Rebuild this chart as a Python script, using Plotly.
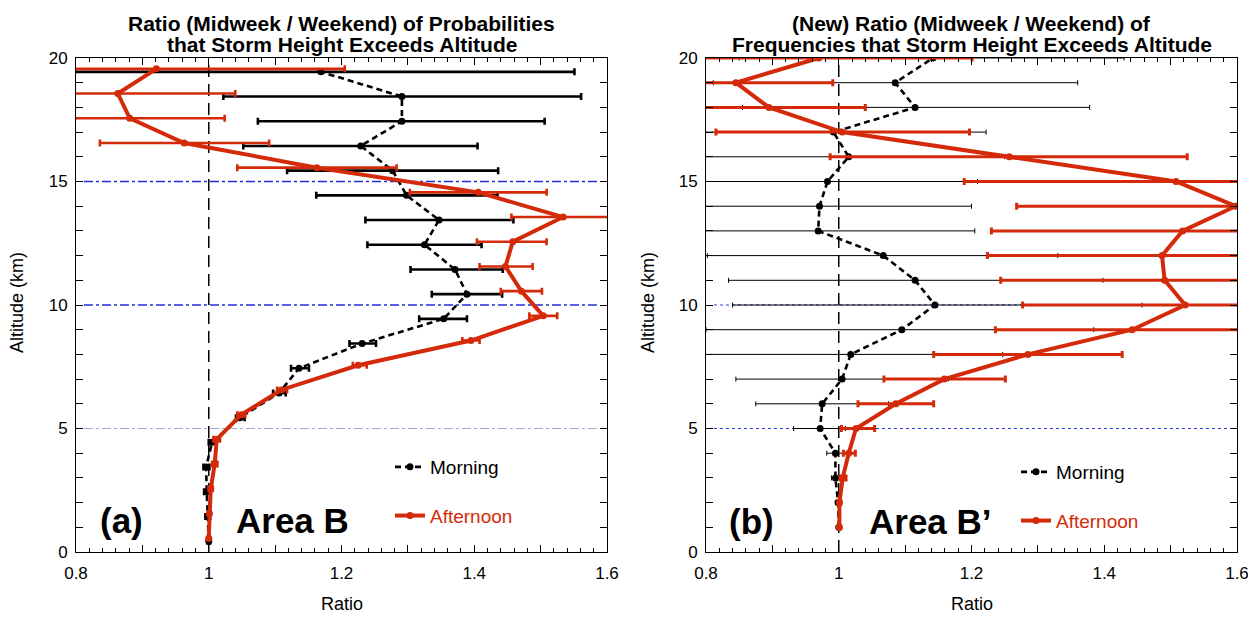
import numpy as np
import plotly.graph_objects as go

# ---------------- data: panel (a) Area B, probabilities ----------------
alt_a = [0.5, 1.5, 2.5, 3.5, 4.5, 5.5, 6.5, 7.5, 8.5, 9.5,
         10.5, 11.5, 12.5, 13.5, 14.5, 15.5, 16.5, 17.5, 18.5, 19.5]
morn_a = [1.000, 0.998, 0.997, 0.996, 1.005, 1.047, 1.106, 1.136, 1.231, 1.354,
          1.389, 1.371, 1.325, 1.347, 1.298, 1.277, 1.229, 1.291, 1.291, 1.169]
morn_a_lo = [0.998, 0.995, 0.993, 0.992, 1.000, 1.041, 1.097, 1.124, 1.212, 1.317,
             1.336, 1.304, 1.239, 1.236, 1.162, 1.118, 1.052, 1.074, 1.022, 0.700]
morn_a_hi = [1.002, 1.002, 1.002, 1.001, 1.011, 1.054, 1.116, 1.151, 1.252, 1.389,
             1.442, 1.443, 1.411, 1.459, 1.435, 1.436, 1.405, 1.506, 1.561, 1.551]
aft_a = [1.000, 1.001, 1.003, 1.009, 1.012, 1.049, 1.109, 1.225, 1.395, 1.504,
         1.471, 1.447, 1.458, 1.534, 1.406, 1.163, 0.963, 0.881, 0.863, 0.921]
aft_a_lo = [0.999, 0.999, 1.000, 1.005, 1.007, 1.043, 1.103, 1.217, 1.382, 1.483,
            1.440, 1.408, 1.404, 1.456, 1.303, 1.043, 0.836, 0.700, 0.700, 0.700]
aft_a_hi = [1.001, 1.003, 1.006, 1.013, 1.017, 1.055, 1.118, 1.238, 1.408, 1.525,
            1.502, 1.488, 1.509, 1.650, 1.509, 1.283, 1.091, 1.024, 1.040, 1.205]

# ---------------- data: panel (b) Area B', frequencies ----------------
alt_b = [1, 2, 3, 4, 5, 6, 7, 8, 9, 10, 11, 12, 13, 14, 15, 16, 17, 18, 19, 20]
morn_b = [1.000, 0.999, 0.995, 0.995, 0.972, 0.975, 1.005, 1.018, 1.095, 1.145,
          1.115, 1.067, 0.969, 0.971, 0.983, 1.015, 0.992, 1.115, 1.085, 1.142]
morn_b_lo = [0.998, 0.995, 0.989, 0.982, 0.932, 0.875, 0.845, 0.700, 0.800, 0.840,
             0.834, 0.802, 0.700, 0.700, 0.700, 0.700, 0.700, 0.855, 0.811, 0.850]
morn_b_hi = [1.002, 1.003, 1.001, 1.007, 1.010, 1.075, 1.165, 1.247, 1.384, 1.457,
             1.398, 1.330, 1.205, 1.200, 1.209, 1.250, 1.222, 1.378, 1.360, 1.430]
aft_b = [1.001, 1.001, 1.006, 1.015, 1.026, 1.086, 1.159, 1.285, 1.442, 1.522,
         1.491, 1.487, 1.518, 1.598, 1.508, 1.257, 1.005, 0.895, 0.845, 0.970]
aft_b_lo = [1.000, 0.999, 1.002, 1.007, 1.004, 1.029, 1.068, 1.143, 1.236, 1.277,
            1.244, 1.224, 1.230, 1.268, 1.189, 0.987, 0.815, 0.700, 0.790, 0.700]
aft_b_hi = [1.002, 1.003, 1.011, 1.025, 1.054, 1.143, 1.251, 1.427, 1.750, 1.800,
            1.800, 1.800, 1.800, 1.950, 1.850, 1.525, 1.197, 1.040, 0.991, 1.201]

x_tick_vals = [0.8, 0.9, 1.0, 1.1, 1.2, 1.3, 1.4, 1.5, 1.6]
x_tick_text = ["0.8", "", "1", "", "1.2", "", "1.4", "", "1.6"]
y_tick_vals = [0, 5, 10, 15, 20]
ref_ratio = 1.0
ref_alts_a = [15, 10, 5]
ref_alts_b = [15, 10, 5]

RED = "#d42a0a"
BLACK = "#000000"
FONT = "Liberation Sans, Arial, Helvetica, sans-serif"

# page has an 8px body margin: figure occupies (8..1256, 8..621)
OFF = 8
W, H = 1256 - OFF, 621 - OFF


def PX(px):
    return (px - OFF) / W


def PY(py):
    return 1 - (py - OFF) / H


fig = go.Figure()


def errs(v, lo, hi):
    v = np.array(v)
    return (np.array(hi) - v).tolist(), (v - np.array(lo)).tolist()


def add_series(x, lo, hi, y, xa, ya, name, color, dash, lw, ms, ethick, ewidth,
               legend, group):
    plus, minus = errs(x, lo, hi)
    fig.add_trace(go.Scatter(
        x=x, y=y, xaxis=xa, yaxis=ya, mode="lines+markers", name=name,
        line=dict(color=color, width=lw, dash=dash),
        marker=dict(color=color, size=ms, symbol="circle"),
        error_x=dict(type="data", symmetric=False, array=plus, arrayminus=minus,
                     color=color, thickness=ethick, width=ewidth),
        legend=legend, legendgroup=group, showlegend=True))


off = 0.06
ya_black = (np.array(alt_a) - off).tolist()
ya_red = (np.array(alt_a) + off).tolist()

# panel (a)
add_series(morn_a, morn_a_lo, morn_a_hi, ya_black, "x", "y", "Morning", BLACK,
           "6px,4px", 2.6, 7, 2.6, 3.5, "legend", "m1")
add_series(aft_a, aft_a_lo, aft_a_hi, ya_red, "x", "y",
           '<span style="color:%s">Afternoon</span>' % RED, RED,
           "solid", 4, 7, 2.6, 3.5, "legend", "a1")
# panel (b)
add_series(morn_b, morn_b_lo, morn_b_hi, alt_b, "x2", "y2", "Morning", BLACK,
           "6px,4px", 2.6, 7, 1.0, 2.5, "legend2", "m2")
add_series(aft_b, aft_b_lo, aft_b_hi, alt_b, "x2", "y2",
           '<span style="color:%s">Afternoon</span>' % RED, RED,
           "solid", 4, 7, 3.0, 3.5, "legend2", "a2")

# reference lines
for xr, yr in (("x", "y"), ("x2", "y2")):
    fig.add_shape(type="line", xref=xr, yref=yr + " domain", x0=ref_ratio, x1=ref_ratio,
                  y0=0, y1=1, line=dict(color=BLACK, width=1.5, dash="12px,7px"),
                  layer="below")
for a in ref_alts_a:
    faint = a == 5
    fig.add_shape(type="line", xref="x domain", yref="y", x0=0.015, x1=0.985, y0=a, y1=a,
                  line=dict(color="#9aa6d8" if faint else "#1f2fd8", width=1 if faint else 1.5,
                            dash="dashdot"), layer="below")
for a in ref_alts_b:
    fig.add_shape(type="line", xref="x2 domain", yref="y2", x0=0.015, x1=0.985, y0=a, y1=a,
                  line=dict(color="#2a3ae0", width=1, dash="dot"), layer="below")

L0, L1 = PX(76), PX(607)
R0, R1 = PX(706), PX(1237)
B0, B1 = PY(552), PY(58)

xcommon = dict(range=[0.8, 1.6], tickvals=x_tick_vals, ticktext=x_tick_text,
               ticks="inside", ticklen=7, tickwidth=1, tickcolor=BLACK,
               minor=dict(dtick=0.02, tick0=0.8, ticks="inside", ticklen=4, tickcolor=BLACK),
               showline=True, linecolor=BLACK, linewidth=1, mirror="allticks",
               showgrid=False, zeroline=False, automargin=False,
               tickfont=dict(family=FONT, size=17, color=BLACK), ticklabelstandoff=6)
ycommon = dict(range=[0, 20], tickvals=y_tick_vals,
               ticks="inside", ticklen=7, tickwidth=1, tickcolor=BLACK,
               minor=dict(dtick=1, ticks="inside", ticklen=7, tickcolor=BLACK),
               showline=True, linecolor=BLACK, linewidth=1, mirror="allticks",
               showgrid=False, zeroline=False, automargin=False,
               tickfont=dict(family=FONT, size=17, color=BLACK), ticklabelstandoff=4)

fig.update_layout(
    width=W, height=H, margin=dict(l=0, r=0, t=0, b=0),
    paper_bgcolor="white", plot_bgcolor="white",
    xaxis=dict(domain=[L0, L1], anchor="y", **xcommon),
    yaxis=dict(domain=[B0, B1], anchor="x", **ycommon),
    xaxis2=dict(domain=[R0, R1], anchor="y2", **xcommon),
    yaxis2=dict(domain=[B0, B1], anchor="x2", **ycommon),
    legend=dict(x=PX(390), y=PY(448), xanchor="left", yanchor="top",
                bgcolor="rgba(0,0,0,0)", font=dict(family=FONT, size=19, color=BLACK),
                tracegroupgap=21, traceorder="grouped", itemwidth=30),
    legend2=dict(x=PX(1016), y=PY(453), xanchor="left", yanchor="top",
                 bgcolor="rgba(0,0,0,0)", font=dict(family=FONT, size=19, color=BLACK),
                 tracegroupgap=21, traceorder="grouped", itemwidth=30),
)

ann = []
titles = ((("Ratio (Midweek / Weekend) of Probabilities", "that Storm Height Exceeds Altitude"), (L0 + L1) / 2),
          (("(New) Ratio (Midweek / Weekend) of", "Frequencies that Storm Height Exceeds Altitude"), (R0 + R1) / 2))
for (l1, l2), cx in titles:
    for txt, py in ((l1, 23), (l2, 45)):
        ann.append(dict(text="<b>%s</b>" % txt, x=cx, y=PY(py), xref="paper", yref="paper",
                        xanchor="center", yanchor="middle", showarrow=False,
                        font=dict(family=FONT, size=21, color=BLACK)))
for cx in ((L0 + L1) / 2, (R0 + R1) / 2):
    ann.append(dict(text="Ratio", x=cx, y=PY(604), xref="paper", yref="paper",
                    xanchor="center", yanchor="middle", showarrow=False,
                    font=dict(family=FONT, size=18, color=BLACK)))
for px in (17, 648):
    ann.append(dict(text="Altitude (km)", x=PX(px), y=PY(303), xref="paper", yref="paper",
                    xanchor="center", yanchor="middle", textangle=-90, showarrow=False,
                    font=dict(family=FONT, size=18, color=BLACK)))
for txt, px, py in (("<b>(a)</b>", 121, 520), ("<b>Area B</b>", 292, 520),
                    ("<b>(b)</b>", 751, 521), ("<b>Area B\u2019</b>", 930, 521)):
    ann.append(dict(text=txt, x=PX(px), y=PY(py), xref="paper", yref="paper",
                    xanchor="center", yanchor="middle", showarrow=False,
                    font=dict(family=FONT, size=35, color=BLACK)))
fig.update_layout(annotations=ann)

fig.write_html("out.html")
